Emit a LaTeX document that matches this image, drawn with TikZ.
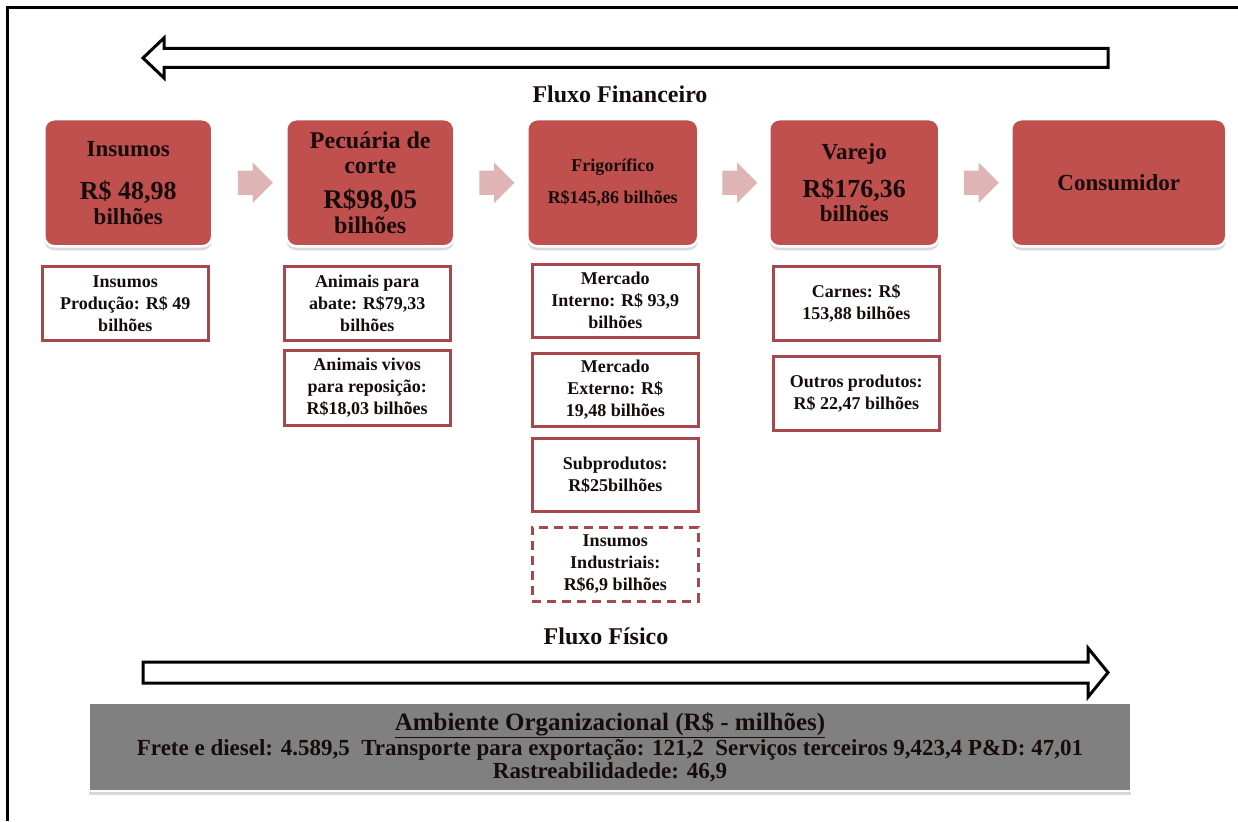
\documentclass[tikz,border=0pt]{standalone}
\usepackage{fontspec}
\setmainfont{Liberation Serif}
\usetikzlibrary{shapes.arrows,shadows,calc}
\definecolor{chainred}{RGB}{192,80,77}
\definecolor{subline}{RGB}{168,72,77}
\definecolor{chevfill}{RGB}{222,180,181}
\definecolor{envgray}{RGB}{128,128,128}
\definecolor{ink}{RGB}{22,12,12}
\newcommand{\fsz}[2]{\fontsize{#1}{#2}\selectfont}

\begin{document}
\begin{tikzpicture}[x=1pt,y=-1pt,
  stage/.style={draw=white, line width=2.5pt, fill=chainred, rounded corners=10pt,
    inner sep=0pt, text=ink, align=center, anchor=north west,
    minimum height=127pt,
    drop shadow={shadow xshift=0pt, shadow yshift=-4pt, opacity=0.3}},
  subbox/.style={draw=subline, line width=2.5pt, fill=white, inner sep=0pt,
    text=ink, font=\bfseries\fsz{18}{22}, align=center, anchor=north west,
    minimum width=166pt},
  chev/.style={shape=single arrow, fill=chevfill, draw=none, inner xsep=0pt,
    inner ysep=12pt, minimum height=35pt, single arrow head extend=8pt},
  bigarrow/.style={draw=black, line width=3pt, fill=white, line join=miter},
  flowlabel/.style={font=\bfseries\fsz{24}{28}, text=ink},
  envbox/.style={fill=envgray, draw=white, line width=2pt, inner sep=0pt,
    anchor=north west, minimum width=1042pt, minimum height=88pt,
    drop shadow={shadow xshift=0pt, shadow yshift=-4pt, opacity=0.3}}
]
\useasboundingbox (0,0) rectangle (1238,821);

% outer frame (top and left edges)
\draw[line width=3pt] (7,821) -- (7,8) -- (1238,8);

% financial flow arrow (right to left)
\draw[bigarrow] (143,58) -- (164,38) -- (164,48.5) -- (1108,48.5) -- (1108,67.5)
  -- (164,67.5) -- (164,78) -- cycle;
\node[flowlabel] (finlabel) at (620,94) {Fluxo Financeiro};

% chain stages
\node[stage, minimum width=168pt, font=\bfseries\fsz{23}{25}] (ins) at (43,118)
  {Insumos\\[18pt]\fsz{26}{25}R\$ 48,98\\bilhões};
\node[stage, minimum width=168pt, font=\bfseries\fsz{24}{25}] (pec) at (285,118)
  {Pecuária de\\corte\\[10pt]\fsz{27}{25}R\$98,05\\bilhões};
\node[stage, minimum width=171pt, font=\bfseries\fsz{18}{22}] (fri) at (526,118)
  {Frigorífico\\[10pt]R\$145,86 bilhões};
\node[stage, minimum width=170pt, font=\bfseries\fsz{23}{24}] (var) at (768,118)
  {Varejo\\[14pt]\fsz{26}{24}R\$176,36\\bilhões};
\node[stage, minimum width=215pt, font=\bfseries\fsz{23}{26}] (con) at (1010,118)
  {Consumidor};

% chevrons between stages
\node[chev] (c1) at ($(ins.east)!0.5!(pec.west)$) {};
\node[chev] (c2) at ($(pec.east)!0.5!(fri.west)$) {};
\node[chev] (c3) at ($(fri.east)!0.5!(var.west)$) {};
\node[chev] (c4) at ($(var.east)!0.5!(con.west)$) {};

% detail boxes
\node[subbox, minimum height=74pt] (insA) at (41,265)
  {Insumos\\Produção: R\$ 49\\bilhões};
\node[subbox, minimum height=74pt] (pecA) at (283,265)
  {Animais para\\abate: R\$79,33\\bilhões};
\node[subbox, minimum height=75pt] (pecB) at (283,349)
  {Animais vivos\\para reposição:\\R\$18,03 bilhões};
\node[subbox, minimum height=73pt] (friA) at (531,263)
  {Mercado\\Interno: R\$ 93,9\\bilhões};
\node[subbox, minimum height=73pt] (friB) at (531,352)
  {Mercado\\Externo: R\$\\19,48 bilhões};
\node[subbox, minimum height=73pt] (friC) at (531,437)
  {Subprodutos:\\R\$25bilhões};
\node[subbox, minimum height=74pt, dashed, dash pattern=on 9pt off 6pt] (friD) at (531,526)
  {Insumos\\Industriais:\\R\$6,9 bilhões};
\node[subbox, minimum height=74pt] (varA) at (772,265)
  {Carnes: R\$\\153,88 bilhões};
\node[subbox, minimum height=74pt] (varB) at (772,355)
  {Outros produtos:\\R\$ 22,47 bilhões};

% physical flow arrow (left to right)
\node[flowlabel] (phylabel) at (606,636) {Fluxo Físico};
\draw[bigarrow] (143,662) -- (1088,662) -- (1088,648) -- (1108,672.5) -- (1088,697)
  -- (1088,683) -- (143,683) -- cycle;

% organisational environment
\node[envbox] (env) at (88,702) {};
\node[font=\bfseries\fsz{23}{23}, text=ink, align=center] (envtext) at (env.center)
  {\fsz{25}{23}\underline{Ambiente Organizacional (R\$ - milhões)}\\
   Frete e diesel: 4.589,5\ \ Transporte para exportação: 121,2\ \ Serviços terceiros 9,423,4 P\&D: 47,01\\
   Rastreabilidadede: 46,9};
\end{tikzpicture}
\end{document}
